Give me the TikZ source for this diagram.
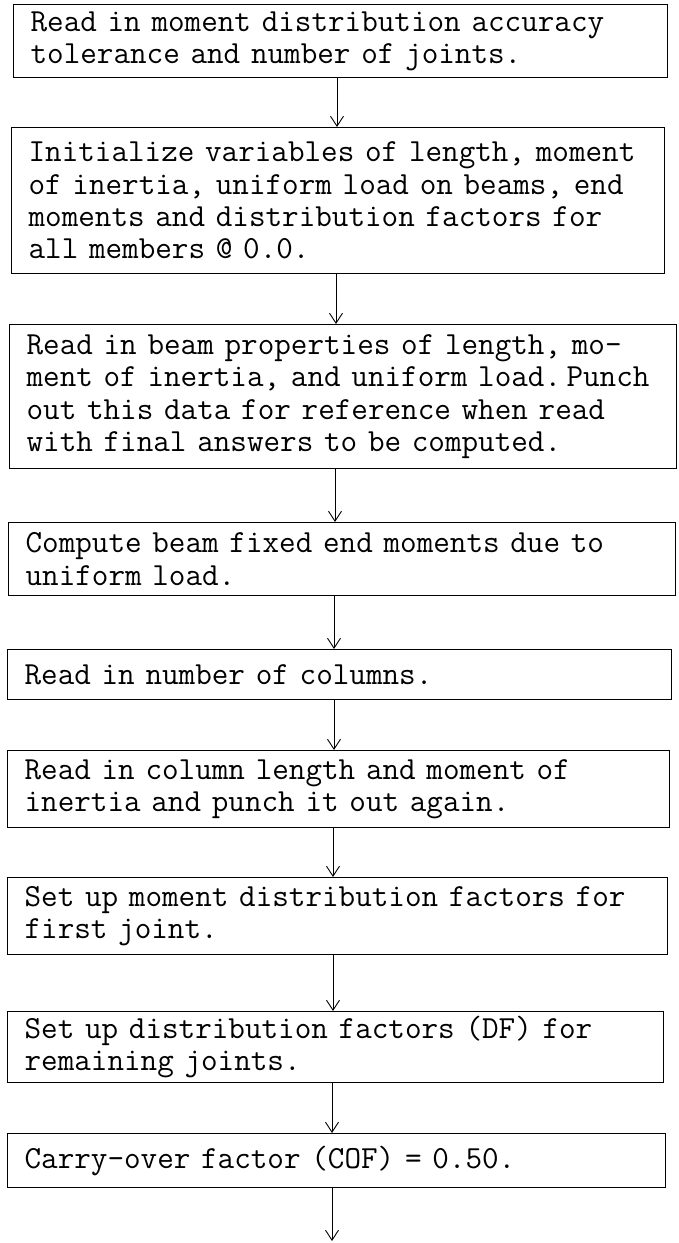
\documentclass[tikz,border=0pt]{standalone}
\usepackage{fontspec}
\usetikzlibrary{arrows.meta}
\tikzset{
  stepbox/.style={draw=black, line width=1.2pt, anchor=north west, align=left,
    inner xsep=17pt, inner ysep=0pt, font={\ttfamily\fontsize{32.2pt}{32.3pt}\selectfont}},
  arr/.style={draw=black, line width=0.9pt, -{Straight Barb[length=10pt,width=13pt]}}
}
\newcommand{\mkline}[1]{\mbox{#1}}
\newcommand{\flowbox}[6]{% name, left, right, top, bottom, text
  \pgfmathsetmacro{\boxw}{#3-#2}\pgfmathsetmacro{\boxh}{#5-#4}\pgfmathsetmacro{\txw}{#3-#2-34}
  \node[stepbox, minimum width=\boxw pt, minimum height=\boxh pt, text width=\txw pt] (#1) at (#2,-#4) {#6};}
\hbadness=10000 \hfuzz=200pt
\begin{document}
\begin{tikzpicture}[x=1pt,y=1pt]
\useasboundingbox[fill=white] (0,0) rectangle (678,-1243);
\flowbox{b1}{13}{667}{4}{77}{\mkline{Read in moment distribution accuracy}\\\mkline{tolerance and number of joints.}}
\flowbox{b2}{11}{664}{127}{273}{\mkline{Initialize variables of length, moment}\\\mkline{of inertia, uniform load on beams, end}\\\mkline{moments and distribution factors for}\\\mkline{all members @ 0.0.}}
\flowbox{b3}{9}{676}{324}{468}{\mkline{Read in beam properties of length, mo-}\\\mkline{ment of inertia, and uniform load.\,Punch}\\\mkline{out this data for reference when read}\\\mkline{with final answers to be computed.}}
\flowbox{b4}{8}{675}{522}{595}{\mkline{Compute beam fixed end moments due to}\\\mkline{uniform load.}}
\flowbox{b5}{7}{671}{649}{699}{\mkline{Read in number of columns.}}
\flowbox{b6}{7}{669}{750}{827}{\mkline{Read in column length and moment of}\\\mkline{inertia and punch it out again.}}
\flowbox{b7}{7}{667}{877}{954}{\mkline{Set up moment distribution factors for}\\\mkline{first joint.}}
\flowbox{b8}{7}{663}{1011}{1082}{\mkline{Set up distribution factors (DF) for}\\\mkline{remaining joints.}}
\flowbox{b9}{7}{665}{1133}{1187}{\mkline{Carry-over factor (COF) = 0.50.}}
\coordinate (c1) at (337,0);
\coordinate (c2) at (336,0);
\coordinate (c3) at (335,0);
\coordinate (c4) at (334,0);
\coordinate (c5) at (333,0);
\coordinate (c6) at (332,0);
\coordinate (endpt) at (332,-1241);
\draw[arr] (b1.south -| c1) -- (b2.north -| c1);
\draw[arr] (b2.south -| c2) -- (b3.north -| c2);
\draw[arr] (b3.south -| c3) -- (b4.north -| c3);
\draw[arr] (b4.south -| c4) -- (b5.north -| c4);
\draw[arr] (b5.south -| c4) -- (b6.north -| c4);
\draw[arr] (b6.south -| c5) -- (b7.north -| c5);
\draw[arr] (b7.south -| c5) -- (b8.north -| c5);
\draw[arr] (b8.south -| c6) -- (b9.north -| c6);
\draw[arr] (b9.south -| c6) -- (endpt);
\end{tikzpicture}
\end{document}
